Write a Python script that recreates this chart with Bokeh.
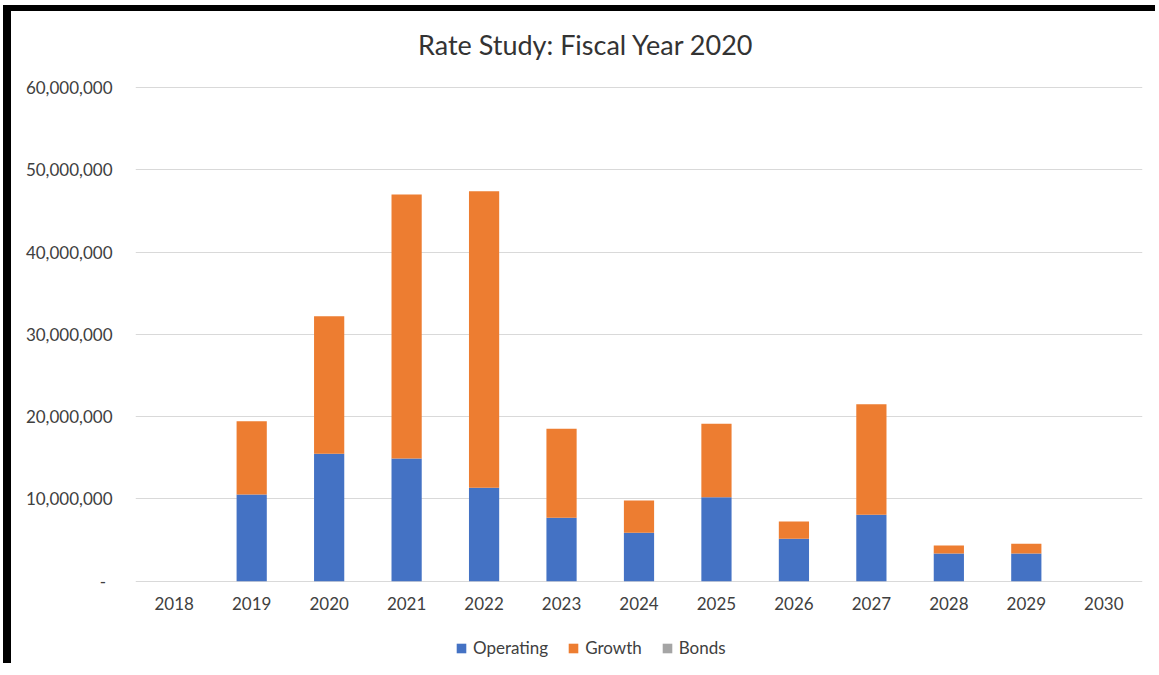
from bokeh.plotting import figure
from bokeh.models import (ColumnDataSource, FactorRange, Range1d, FixedTicker,
                          CustomJSTickFormatter, Legend, LegendItem, Label)
from bokeh.embed import file_html
from bokeh.resources import INLINE

# ---- data ----
years = ["2018", "2019", "2020", "2021", "2022", "2023", "2024",
         "2025", "2026", "2027", "2028", "2029", "2030"]
operating = [0, 10_550_000, 15_500_000, 14_900_000, 11_350_000, 7_700_000, 5_900_000,
             10_200_000, 5_150_000, 8_070_000, 3_370_000, 3_370_000, 0]
growth = [0, 8_880_000, 16_700_000, 32_100_000, 36_050_000, 10_840_000, 3_900_000,
          8_950_000, 2_110_000, 13_430_000, 970_000, 1_180_000, 0]
bonds = [0, 0, 0, 0, 0, 0, 0, 0, 0, 0, 0, 0, 0]
series = ["Operating", "Growth", "Bonds"]
colors = ["#4472C4", "#ED7D31", "#A5A5A5"]
y_ticks = [0, 10_000_000, 20_000_000, 30_000_000, 40_000_000, 50_000_000, 60_000_000]
title_text = "Rate Study: Fiscal Year 2020"

FONT = "Lato"
TXT = "#404040"

# ---- layout (pixels) ----
ORIGIN = 11                            # canvas origin at page (11, 11)
W, H = 1144, 652
Y_TOP_MAX = 60_000_000
PX_TOP, PX_ZERO = 87.0, 580.7          # page y of 60M gridline and of zero line
FRAME_TOP, FRAME_BOTTOM = 16.0, 662.0  # page y of plot frame edges
px_per_unit = (PX_ZERO - PX_TOP) / Y_TOP_MAX
y_end = (PX_ZERO - FRAME_TOP) / px_per_unit
y_start = -(FRAME_BOTTOM - PX_ZERO) / px_per_unit
title_y = (PX_ZERO - 44.0) / px_per_unit

src = ColumnDataSource(dict(year=years, Operating=operating, Growth=growth, Bonds=bonds))

p = figure(x_range=FactorRange(*years), y_range=Range1d(y_start, y_end),
           width=W, height=H, output_backend="svg", toolbar_location=None,
           min_border_left=135 - ORIGIN, min_border_right=W - (1142 - ORIGIN),
           min_border_top=int(FRAME_TOP - ORIGIN), min_border_bottom=int(H - (FRAME_BOTTOM - ORIGIN)))
# black frame (left and top) of the screenshot, drawn as shadows so layout is unaffected
p.styles = {"margin-left": f"{ORIGIN}px", "margin-top": f"{ORIGIN}px",
            "box-shadow": "-8px 0 0 0 black, 0 -6px 0 0 black, -8px -6px 0 0 black"}
p.outline_line_color = None
p.background_fill_color = "white"
p.border_fill_color = "white"

renderers = p.vbar_stack(series, x="year", width=0.39, fill_color=colors,
                         line_color=None, source=src)

# axes
for ax in (p.xaxis, p.yaxis):
    ax.axis_line_color = None
    ax.major_tick_line_color = None
    ax.minor_tick_line_color = None
    ax.major_label_text_font = FONT
    ax.major_label_text_font_size = "17px"
    ax.major_label_text_color = TXT
p.xaxis.fixed_location = 0
p.xaxis.major_label_standoff = 10
p.yaxis.major_label_standoff = 17
p.yaxis.ticker = FixedTicker(ticks=y_ticks)
p.yaxis.formatter = CustomJSTickFormatter(
    code="return tick == 0 ? '-\\u00a0\\u2009' : tick.toLocaleString('en-US');")
p.xgrid.grid_line_color = None
p.ygrid.grid_line_color = "#D9D9D9"
p.ygrid.grid_line_width = 1

# title
p.add_layout(Label(x=5.816, y=title_y, text=title_text, text_align="center",
                   text_baseline="alphabetic", text_font=FONT, text_font_size="27px",
                   text_color="#333333"))

# legend
legend = Legend(items=[LegendItem(label=s, renderers=[r]) for s, r in zip(series, renderers)],
                orientation="horizontal", location=(320, 4),
                glyph_width=12, glyph_height=12, label_standoff=6, spacing=19,
                padding=0, margin=0, border_line_color=None, background_fill_alpha=0,
                label_text_font=FONT, label_text_font_size="17px", label_text_color=TXT)
p.add_layout(legend)

open("out.html", "w").write(file_html(p, INLINE))
